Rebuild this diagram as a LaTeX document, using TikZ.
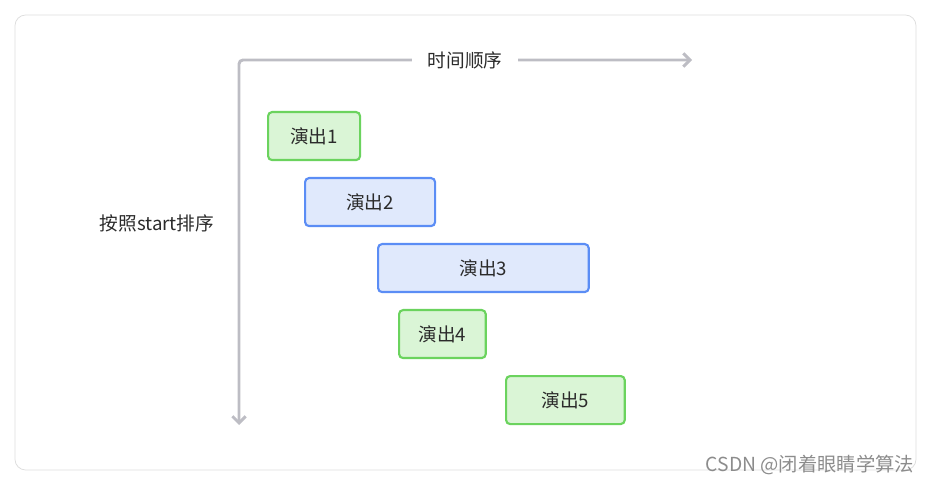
\documentclass[tikz,border=0pt]{standalone}
\usepackage{fontspec}
\setmainfont{Noto Sans CJK SC}
\usetikzlibrary{arrows.meta}
\definecolor{axisgray}{HTML}{BDBDC4}
\definecolor{gborder}{HTML}{6BD35E}
\definecolor{gfill}{HTML}{DAF5D6}
\definecolor{bborder}{HTML}{5B8DF5}
\definecolor{bfill}{HTML}{E0E9FC}
\definecolor{txt}{HTML}{2B2B2B}
\begin{document}
\begin{tikzpicture}[x=0.75pt,y=-0.75pt,
        gbox/.style={draw=gborder,fill=gfill,line width=1.6pt,rounded corners=3pt,anchor=north west,minimum height=36pt,inner sep=0pt,text=txt,font=\fontsize{14}{16}\selectfont},
        bbox/.style={gbox,draw=bborder,fill=bfill}]
                \useasboundingbox (0,0) rectangle (931,484);
                \draw[rounded corners=8pt,black!13,line width=0.6pt] (15,15) rectangle (916,470);
                \coordinate (O) at (239,60);
                \coordinate (T) at (692,60);
                \coordinate (D) at (239,425);
                \draw[axisgray,line width=2.2pt,rounded corners=3pt,{Straight Barb[length=5pt,width=10pt]}-{Straight Barb[length=5pt,width=10pt]}] (D) |- (T);
                \node[fill=white,inner xsep=12pt,text=txt,font=\fontsize{14}{16}\selectfont] (tlab) at (465,60) {时间顺序};
                \node[text=txt,font=\fontsize{14}{16}\selectfont] (slab) at (157,223) {按照start排序};
                \node[gbox,minimum width=69pt] (S1) at (267,111) {演出1};
                \node[bbox,minimum width=97.5pt] (S2) at (304,177) {演出2};
                \node[bbox,minimum width=158pt] (S3) at (377,243) {演出3};
                \node[gbox,minimum width=65pt] (S4) at (398,309) {演出4};
                \node[gbox,minimum width=89pt] (S5) at (505,375) {演出5};
                \node[text=black!45,font=\fontsize{14.5}{16}\selectfont] (mark) at (810,465) {CSDN @闭着眼睛学算法};
            \end{tikzpicture}
\end{document}
